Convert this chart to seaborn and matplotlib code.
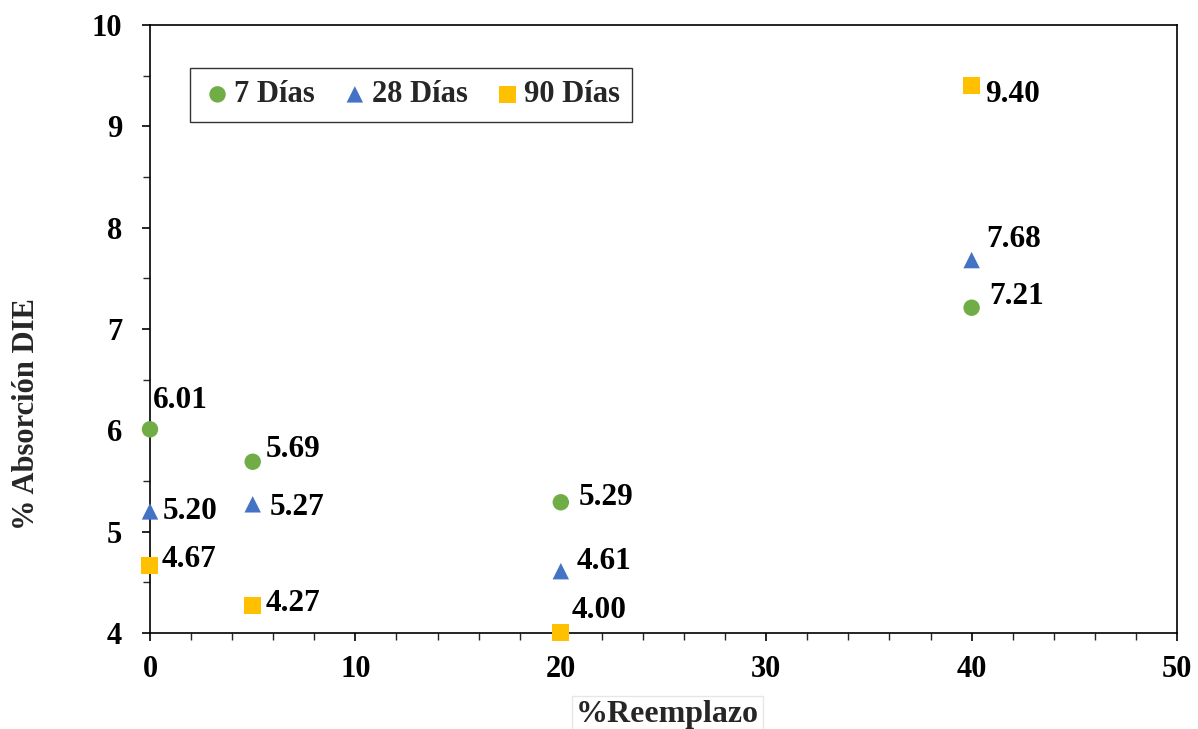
import numpy as np
import pandas as pd
import matplotlib
matplotlib.use("Agg")
import matplotlib.pyplot as plt
from matplotlib.ticker import MultipleLocator
import seaborn as sns

# datos
reemplazo = [0, 5, 20, 40]
abs_7 = [6.01, 5.69, 5.29, 7.21]
abs_28 = [5.20, 5.27, 4.61, 7.68]
abs_90 = [4.67, 4.27, 4.00, 9.40]
series = ["7 Días", "28 Días", "90 Días"]

# desplazamiento de las etiquetas (px)
offsets = {
    "7 Días": [(3, 29), (13, 12), (18, 5), (18, 11)],
    "28 Días": [(13, 0), (17, -3), (16, 10), (15, 21)],
    "90 Días": [(12, 6), (13, 2), (11, 22), (13, -9)],
}

df = pd.DataFrame({
    "x": reemplazo * 3,
    "y": abs_7 + abs_28 + abs_90,
    "serie": np.repeat(series, len(reemplazo)),
})

sns.set_theme(style="white")
plt.rcParams["font.family"] = ["Liberation Serif", "DejaVu Serif"]
plt.rcParams["font.weight"] = "bold"

colores = {"7 Días": "#70AD47", "28 Días": "#4472C4", "90 Días": "#FFC000"}
marcas = {"7 Días": "o", "28 Días": "^", "90 Días": "s"}
tamanos = {"7 Días": 140, "28 Días": 140, "90 Días": 150}

fig = plt.figure(figsize=(11.98, 7.29), dpi=100)
ax = fig.add_axes([0.1252, 0.1317, 0.8573, 0.834])

for s in series:
    sub = df[df["serie"] == s]
    sns.scatterplot(data=sub, x="x", y="y", color=colores[s], marker=marcas[s],
                    s=tamanos[s], edgecolor="none", label=s, ax=ax, zorder=3,
                    clip_on=False)
    for (xv, yv), (dx, dy) in zip(zip(sub["x"], sub["y"]), offsets[s]):
        ax.annotate(f"{yv:.2f}", (xv, yv), xytext=(dx * 0.72, dy * 0.72),
                    textcoords="offset points", ha="left", va="center",
                    fontsize=22.5, fontweight="bold", color="black")

ax.set_xlim(0, 50)
ax.set_ylim(4, 10)
ax.xaxis.set_major_locator(MultipleLocator(10))
ax.xaxis.set_minor_locator(MultipleLocator(2))
ax.yaxis.set_major_locator(MultipleLocator(1))
ax.yaxis.set_minor_locator(MultipleLocator(0.5))
ax.tick_params(which="major", direction="out", length=6, width=1.2,
               labelsize=22, colors="black", bottom=True, left=True, pad=10)
ax.tick_params(which="minor", direction="out", length=5, width=1.0,
               bottom=True, left=True)
ax.tick_params(axis="y", which="major", pad=14)
for lab in ax.get_xticklabels() + ax.get_yticklabels():
    lab.set_fontweight("bold")
for sp in ax.spines.values():
    sp.set_color("black")
    sp.set_linewidth(1.2)

ax.set_xlabel("%Reemplazo", fontsize=23, fontweight="bold",
              bbox=dict(facecolor="white", edgecolor="#e6e6e6", pad=3))
ax.xaxis.set_label_coords(0.504, -0.11)
ax.set_ylabel("% Absorción DIE", fontsize=22, fontweight="bold")
ax.yaxis.set_label_coords(-0.106, 0.36)

leg = ax.legend(loc="upper left", bbox_to_anchor=(0.039, 0.929), ncol=3,
                borderaxespad=0, fontsize=22, frameon=True, fancybox=False,
                handletextpad=0.05, columnspacing=0.8, borderpad=0.4,
                handlelength=1.0, markerscale=1.0)
leg.get_frame().set_edgecolor("black")
leg.get_frame().set_linewidth(1.0)
for t in leg.get_texts():
    t.set_fontweight("bold")

plt.savefig("out.png", dpi=100)
plt.close()
